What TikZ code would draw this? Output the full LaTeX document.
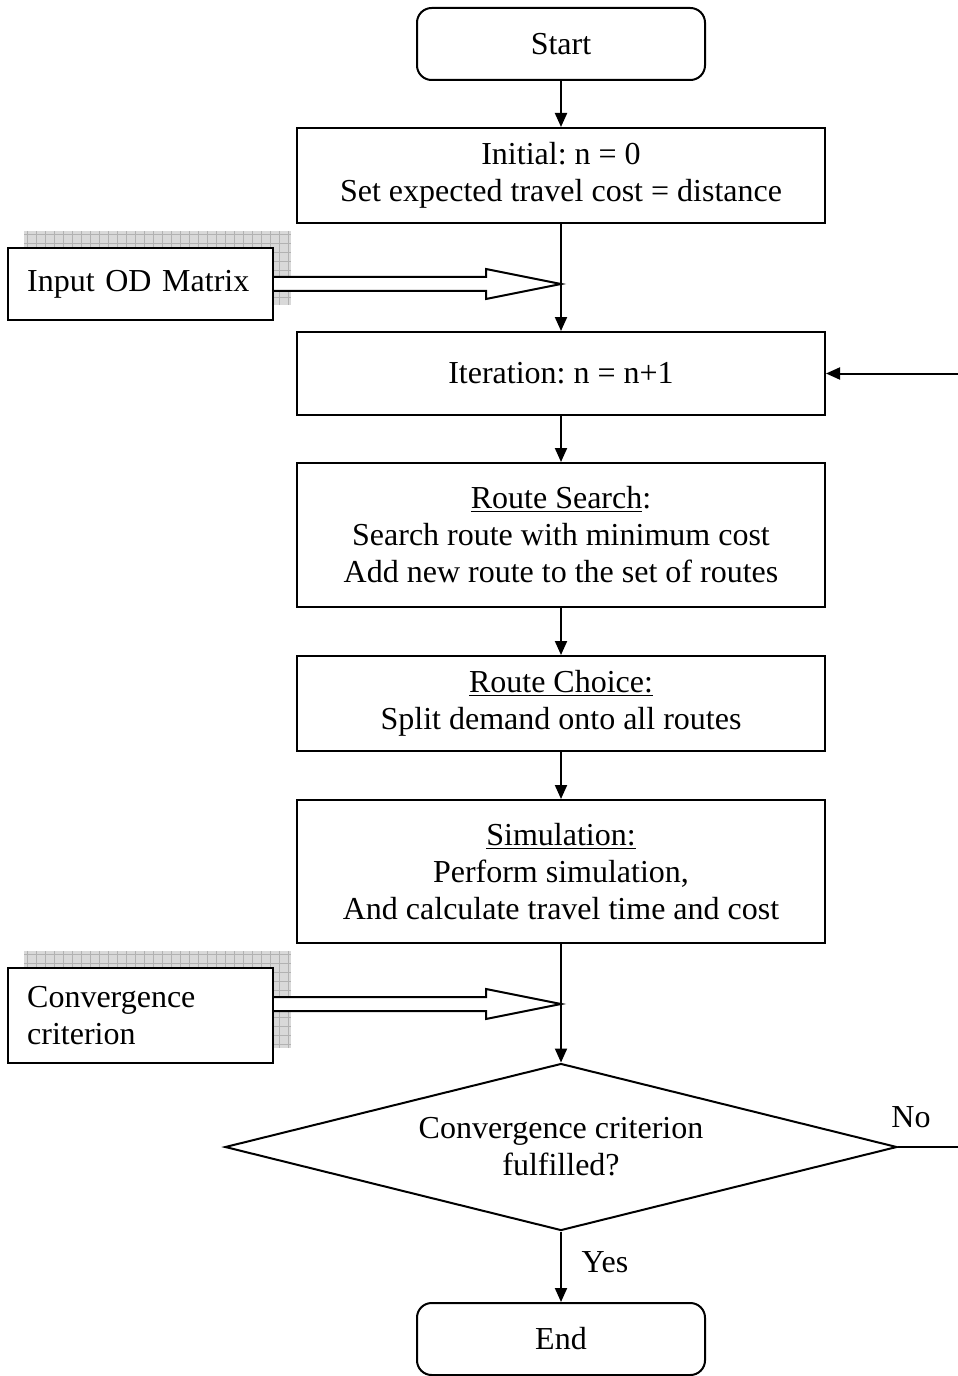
\documentclass[tikz,border=0pt]{standalone}
\usepackage{fontspec}
\setmainfont{Liberation Serif}
\frenchspacing
\usetikzlibrary{shapes.geometric,arrows.meta,calc,backgrounds}

\tikzset{
  flow/.style={draw, line width=1.5pt, fill=white, align=center, inner sep=0pt,
    minimum width=396pt, font=\fontsize{24}{27.75}\selectfont},
  term/.style={flow, rounded corners=11pt, minimum width=216pt, minimum height=54pt},
  inbox/.style={flow, align=left, minimum width=198.75pt, inner xsep=14pt,
    text width=170pt},
  decide/.style={flow, diamond, shape aspect=4, minimum width=504pt, minimum height=125.25pt},
  lbl/.style={font=\fontsize{24}{27.75}\selectfont, inner sep=0pt},
  conn/.style={line width=1.5pt, -{Triangle[length=10.5pt,width=9pt]}},
  fat/.style={draw, line width=1.5pt, fill=white, line join=miter},
  shadefill/.style={fill=gray!30},
  shadegrid/.style={draw=gray!60, line width=0.5pt, step=6.75pt}
}

% hollow block arrow from #1 to #2 (same height)
\newcommand{\fatarrow}[2]{%
  \draw[fat] ($(#1)+(0,-7)$) -- ($(#2)+(-75,-7)$) -- ($(#2)+(-75,-15)$) -- (#2)
    -- ($(#2)+(-75,15)$) -- ($(#2)+(-75,7)$) -- ($(#1)+(0,7)$);}
% gridded shadow behind box #1
\newcommand{\gridshadow}[1]{%
  \path[shadefill] ($(#1.south west)+(17,-16)$) rectangle ($(#1.north east)+(17,-16)$);
  \path[shadegrid] ($(#1.south west)+(17,-16)$) grid ($(#1.north east)+(17,-16)$);}

\begin{document}
\begin{tikzpicture}[x=0.75pt,y=-0.75pt]
  \useasboundingbox (0,0) rectangle (957,1376);

  \node[term] (start) at (561,44) {Start};
  \node[flow, minimum height=71.25pt] (init) at (561,175.5)
    {Initial: n = 0\\Set expected travel cost = distance};
  \node[flow, minimum height=62.25pt] (iter) at (561,373.5) {Iteration: n = n+1};
  \node[flow, minimum height=108pt] (search) at (561,535)
    {\underline{Route Search}:\\Search route with minimum cost\\Add new route to the set of routes};
  \node[flow, minimum height=71.25pt] (choice) at (561,703.5)
    {\underline{Route Choice:}\\Split demand onto all routes};
  \node[flow, minimum height=107.25pt] (sim) at (561,871.5)
    {\underline{Simulation:}\\Perform simulation,\\And calculate travel time and cost};
  \node[decide] (conv) at (561,1147) {Convergence criterion\\fulfilled?};
  \node[term] (end) at (561,1339) {End};

  % inputs with shadow
  \node[inbox, minimum height=54pt] (od) at (140.5,284) {Input OD Matrix};
  \node[inbox, minimum height=71.25pt] (crit) at (140.5,1015.5) {Convergence\\criterion};
  \begin{scope}[on background layer]
    \gridshadow{od}
    \gridshadow{crit}
  \end{scope}

  \draw[conn] (start) -- (init);
  \draw[conn] (init) -- (iter);
  \draw[conn] (iter) -- (search);
  \draw[conn] (search) -- (choice);
  \draw[conn] (choice) -- (sim);
  \draw[conn] (sim) -- (conv);
  \draw[conn] (conv) -- (end);

  \coordinate (odin) at (561,284);
  \coordinate (critin) at (561,1004);
  \fatarrow{od.east}{odin}
  \fatarrow{crit.east |- critin}{critin}

  % loop back
  \coordinate (back) at (962,1147);
  \draw[conn] (conv.east) -- (back) |- (iter.east);
  \node[lbl] (no) at (911,1117) {No};
  \node[lbl] (yes) at (605,1262) {Yes};
\end{tikzpicture}
\end{document}
